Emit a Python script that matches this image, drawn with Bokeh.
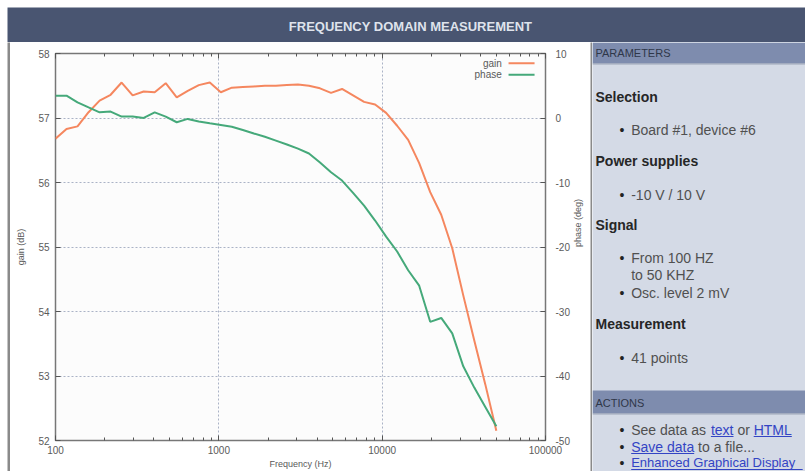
import math
from bokeh.plotting import figure
from bokeh.layouts import column, row
from bokeh.models import (Range1d, LinearAxis, LogAxis, SingleIntervalTicker, LogTicker, Label,
                          NumeralTickFormatter)
from bokeh.embed import file_html
from bokeh.resources import INLINE
from bokeh.core.properties import value

# ---------------- data ----------------
freq_hz = [100.0, 116.8, 136.4, 159.4, 186.2, 217.5, 254.0, 296.7, 346.6, 404.9,
           472.9, 552.4, 645.2, 753.7, 880.4, 1028.3, 1201.2, 1403.1, 1638.9, 1914.4,
           2236.1, 2611.9, 3051.0, 3563.8, 4162.8, 4862.5, 5679.8, 6634.5, 7749.6, 9052.2,
           10573.8, 12350.9, 14427.0, 16851.8, 19684.3, 22992.9, 26857.5, 31371.6, 36644.6, 42803.8,
           50000.0]
gain_db = [56.68, 56.83, 56.87, 57.09, 57.27, 57.36, 57.55, 57.35, 57.41, 57.40,
           57.54, 57.32, 57.42, 57.51, 57.55, 57.40, 57.47, 57.48, 57.49, 57.50,
           57.50, 57.51, 57.52, 57.50, 57.46, 57.39, 57.45, 57.35, 57.25, 57.21,
           57.08, 56.88, 56.66, 56.30, 55.85, 55.50, 54.98, 54.25, 53.55, 52.87,
           52.15]
phase_deg = [3.46, 3.46, 2.43, 1.65, 0.88, 0.99, 0.22, 0.22, 0.01, 0.88,
             0.22, -0.66, -0.14, -0.55, -0.82, -1.07, -1.35, -1.85, -2.4, -2.9,
             -3.5, -4.1, -4.75, -5.5, -6.9, -8.4, -9.7, -11.6, -13.6, -15.9,
             -18.4, -20.7, -23.6, -26.0, -31.6, -31.0, -33.4, -38.5, -41.8, -44.8,
             -47.8]
series_names = ["gain", "phase"]
series_colors = ["#f5875f", "#45a97a"]
x_limits = [100, 100000]
gain_limits = [52, 58]
phase_limits = [-50, 10]

title_text = "FREQUENCY DOMAIN MEASUREMENT"
param_sections = [
    ("Selection", ["Board #1, device #6"]),
    ("Power supplies", ["-10 V / 10 V"]),
    ("Signal", ["From 100 HZ", "to 50 KHZ", "Osc. level 2 mV"]),
    ("Measurement", ["41 points"]),
]

FONT = "Liberation Sans"
HEADER_BG = "#495571"
PANEL_BG = "#d4dae6"
BAR_BG = "#7e8cae"
BORDER = "#8a8a8a"
LINK = "#3344c4"
TEXT = "#505050"


def no_align(f):
    try:
        f.frame_align = False
    except Exception:
        pass
    return f


def blank(w, h, bg):
    f = figure(width=w, height=h, x_range=Range1d(0, w), y_range=Range1d(h, 0),
               output_backend="svg", toolbar_location=None, min_border=0,
               background_fill_color=bg, border_fill_color=bg,
               outline_line_color=None, x_axis_location=None, y_axis_location=None)
    f.grid.visible = False
    return no_align(f)


# ---------------- header ----------------
header = blank(798, 35, HEADER_BG)
header.text(x=[403], y=[18.5], text=[title_text], text_font=value(FONT),
            text_font_size="13px", text_font_style="bold", text_color="#dfe3ec",
            text_align="center", text_baseline="middle")

# ---------------- chart ----------------
chart = figure(width=580, height=429, x_axis_type="log",
               x_range=Range1d(*x_limits), y_range=Range1d(*gain_limits),
               output_backend="svg", toolbar_location=None,
               min_border_left=45, min_border_right=43, min_border_top=11, min_border_bottom=30,
               background_fill_color="#fcfcfc", border_fill_color="white",
               outline_line_color="#777777", outline_line_width=1.5)
no_align(chart)
chart.extra_y_ranges = {"phase": Range1d(*phase_limits)}

chart.line(freq_hz, gain_db, line_color=series_colors[0], line_width=2)
chart.line(freq_hz, phase_deg, line_color=series_colors[1], line_width=2, y_range_name="phase")

xa = chart.xaxis[0]
xa.ticker = LogTicker(num_minor_ticks=10)
xa.formatter = NumeralTickFormatter(format="0")
xa.axis_label = "Frequency (Hz)"
ya = chart.yaxis[0]
ya.ticker = SingleIntervalTicker(interval=1)
ya.formatter = NumeralTickFormatter(format="0")
ya.axis_label = "gain (dB)"

ra = LinearAxis(y_range_name="phase", ticker=SingleIntervalTicker(interval=10),
                formatter=NumeralTickFormatter(format="0"), axis_label="phase (deg)")
chart.add_layout(ra, "right")
ta = LogAxis(ticker=LogTicker(num_minor_ticks=10))
chart.add_layout(ta, "above")

for ax in (xa, ya, ra, ta):
    ax.axis_line_color = None
    ax.major_tick_in = 5
    ax.major_tick_out = 0
    ax.minor_tick_in = 3
    ax.minor_tick_out = 0
    ax.major_tick_line_color = "#555555"
    ax.minor_tick_line_color = "#555555"
    ax.major_label_text_font = FONT
    ax.major_label_text_font_size = "10px"
    ax.major_label_text_color = "#5a5a5a"
    ax.axis_label_text_font = FONT
    ax.axis_label_text_font_size = "9px"
    ax.axis_label_text_font_style = "normal"
    ax.axis_label_text_color = "#5a5a5a"
for ax in (ya, ra):
    ax.minor_tick_line_color = None
ta.major_label_text_font_size = "1px"
ta.major_label_text_alpha = 0
ta.major_label_standoff = 0
xa.major_label_standoff = 5
xa.axis_label_standoff = 2
ya.major_label_standoff = 6
ya.axis_label_standoff = 9
ra.major_label_standoff = 10
ra.axis_label_standoff = 5
try:
    ra.axis_label_orientation = math.pi / 2
except Exception:
    pass

for g in (chart.xgrid[0], chart.ygrid[0]):
    g.grid_line_color = "#aab3c6"
    g.grid_line_dash = "2 2"
    g.grid_line_width = 1

# legend (gnuplot style: label, then sample)
leg_y = [57.85, 57.67]
for name, col, yy in zip(series_names, series_colors, leg_y):
    chart.add_layout(Label(x=54000, y=yy, text=name, text_align="right", text_baseline="middle",
                           text_font=FONT, text_font_size="10px", text_color="#5a5a5a"))
    chart.segment(x0=[59400], y0=[yy], x1=[85700], y1=[yy], line_color=col, line_width=2)

# ---------------- side panel ----------------
SW, SH = 213, 429
side = blank(SW, SH, PANEL_BG)
side.quad(left=[0, 0], right=[SW, SW], top=[0, 348], bottom=[21, 371],
          fill_color=BAR_BG, line_color=None)
side.segment(x0=[0, 0], y0=[21.5, 371.5], x1=[SW, SW], y1=[21.5, 371.5],
             line_color="#9aa3b5", line_width=1)
side.text(x=[3, 3], y=[10.5, 360], text=["PARAMETERS", "ACTIONS"], text_font=value(FONT),
          text_font_size="11px", text_color="#2f3749", text_baseline="middle")

head_y = [54, 118, 182, 281]
item_y = [[87], [152], [215, 232, 250], [315]]
for (hd, items), hy, iys in zip(param_sections, head_y, item_y):
    side.text(x=[3], y=[hy], text=[hd], text_font=value(FONT), text_font_size="14px",
              text_font_style="bold", text_color="#262626", text_baseline="middle")
    for k, (it, iy) in enumerate(zip(items, iys)):
        if not (hd == "Signal" and k == 1):
            side.text(x=[29.5], y=[iy], text=["\u2022"], text_font=value(FONT), text_font_size="14px",
                      text_color="#222222", text_baseline="middle", text_align="center")
        side.text(x=[38.7], y=[iy], text=[it], text_font=value(FONT), text_font_size="14px",
                  text_color=TEXT, text_baseline="middle")

# actions
act_y = [387, 404, 420]
for ay in act_y:
    side.text(x=[29.5], y=[ay], text=["\u2022"], text_font=value(FONT), text_font_size="14px",
              text_color="#222222", text_baseline="middle", text_align="center")
plain = [(38.7, 387, "See data as", "14px"), (145, 387, "or", "14px"),
         (105.6, 404, "to a file...", "14px")]
links = [(118.4, 387, "text", 22.6, "14px"), (161.2, 387, "HTML", 38.1, "14px"),
         (38.7, 404, "Save data", 63.0, "14px"),
         (38.7, 420, "Enhanced Graphical Display", 171.5, "13px")]
for x0, yy, t, fs in plain:
    side.text(x=[x0], y=[yy], text=[t], text_font=value(FONT), text_font_size=fs,
              text_color=TEXT, text_baseline="middle")
for x0, yy, t, w, fs in links:
    side.text(x=[x0], y=[yy], text=[t], text_font=value(FONT), text_font_size=fs,
              text_color=LINK, text_baseline="middle")
    side.segment(x0=[x0], y0=[yy + 7], x1=[x0 + w], y1=[yy + 7], line_color=LINK, line_width=1)

# ---------------- borders / page margin ----------------
leftbar = blank(3, SH, BORDER)
divider = blank(2, SH, BORDER)
top_pad = blank(805, 7, "white")
left_pad = blank(7, 464, "white")

layout = column(top_pad,
                row(left_pad, column(header, row(leftbar, chart, divider, side))))
open("out.html", "w").write(file_html(layout, INLINE))
